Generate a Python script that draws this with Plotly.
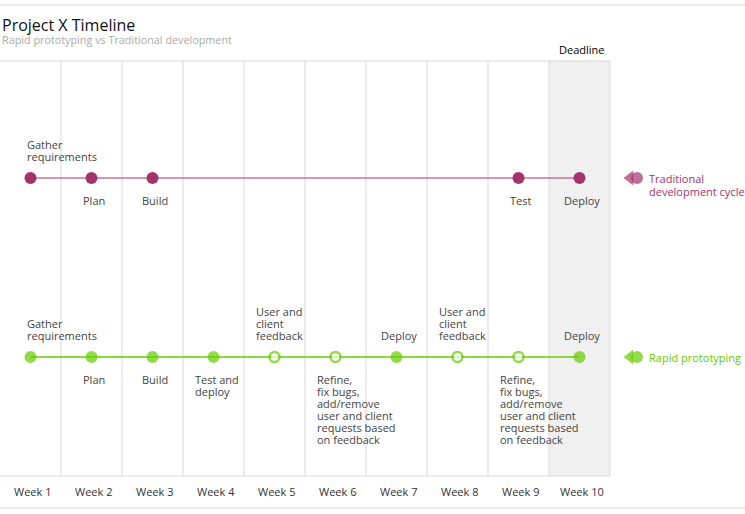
import plotly.graph_objects as go

# --------------------
# Data
# --------------------
weeks = ["Week 1", "Week 2", "Week 3", "Week 4", "Week 5",
         "Week 6", "Week 7", "Week 8", "Week 9", "Week 10"]

refine_text = "Refine,\nfix bugs,\nadd/remove\nuser and client\nrequests based\non feedback"
feedback_text = "User and\nclient\nfeedback"

trad_weeks = ["Week 1", "Week 2", "Week 3", "Week 9", "Week 10"]
trad_labels = ["Gather\nrequirements", "Plan", "Build", "Test", "Deploy"]
trad_sides = ["above", "below", "below", "below", "below"]

rapid_weeks = weeks
rapid_labels = ["Gather\nrequirements", "Plan", "Build", "Test and\ndeploy", feedback_text,
                refine_text, "Deploy", feedback_text, refine_text, "Deploy"]
rapid_sides = ["above", "below", "below", "below", "above",
               "below", "above", "above", "below", "above"]
rapid_filled = [True, True, True, True, False, False, True, False, False, True]

series_names = ["Traditional\ndevelopment cycle", "Rapid prototyping"]
deadline_week = "Week 10"

# --------------------
# Style / layout
# --------------------
W, H = 745, 514
PURPLE = "#a5336b"
GREEN = "#66cc00"
GRID = "#d9d9d9"
TEXT = "#444444"
FONT = "Open Sans"

px_per_week = 61
row_y = {"trad": 1, "rapid": 0}
row_px = {"trad": 178, "rapid": 357}
unit_px = row_px["rapid"] - row_px["trad"]
y_top = 1 + row_px["trad"] / unit_px
y_bot = -(H - row_px["rapid"]) / unit_px
x_left = -0.5
x_right = x_left + W / px_per_week

plot_top = 1 - 61 / H
plot_bot = 1 - 476 / H
week_label_y = 1 - 491 / H

pos = {w: i for i, w in enumerate(weeks)}

fig = go.Figure()

# shaded deadline column
d = pos[deadline_week]
fig.add_shape(type="rect", xref="x", yref="paper", x0=d - 0.5, x1=d + 0.5,
              y0=plot_bot, y1=plot_top, fillcolor="#f0f0f0", line_width=0, layer="below")

# column grid lines
for i in range(1, len(weeks) + 1):
    fig.add_shape(type="line", xref="x", yref="paper", x0=i - 0.5, x1=i - 0.5,
                  y0=plot_bot, y1=plot_top, line=dict(color=GRID, width=1), layer="below")

# frame lines
for yy in (plot_top, plot_bot):
    fig.add_shape(type="line", xref="x", yref="paper", x0=x_left, x1=len(weeks) - 0.5,
                  y0=yy, y1=yy, line=dict(color=GRID, width=1), layer="below")
for yy in (1 - 5 / H, 1 - 508 / H):
    fig.add_shape(type="line", xref="paper", yref="paper", x0=0, x1=1,
                  y0=yy, y1=yy, line=dict(color=GRID, width=1), layer="below")

# traditional series
tx = [pos[w] for w in trad_weeks]
fig.add_trace(go.Scatter(
    x=tx, y=[row_y["trad"]] * len(tx), mode="lines+markers",
    line=dict(color=PURPLE, width=1),
    marker=dict(color=PURPLE, size=12, line_width=0),
    hoverinfo="skip", showlegend=False
))

# rapid series
rx = [pos[w] for w in rapid_weeks]
fig.add_trace(go.Scatter(
    x=rx, y=[row_y["rapid"]] * len(rx), mode="lines+markers",
    line=dict(color=GREEN, width=1.5),
    marker=dict(color=[GREEN if f else "white" for f in rapid_filled],
                size=[12 if f else 10 for f in rapid_filled],
                line=dict(color=GREEN, width=[0 if f else 2.5 for f in rapid_filled])),
    hoverinfo="skip", showlegend=False
))

# legend glyphs (teardrop = triangle + circle)
glyph_x = len(weeks) - 0.5 + 27 / px_per_week
for key, col in (("trad", PURPLE), ("rapid", GREEN)):
    fig.add_trace(go.Scatter(
        x=[glyph_x - 7 / px_per_week, glyph_x], y=[row_y[key]] * 2, mode="markers",
        marker=dict(symbol=["triangle-left", "circle"], size=[13, 12], color=col, line_width=0),
        cliponaxis=False, hoverinfo="skip", showlegend=False
    ))

annotations = []


def add_label(week, row, text, side):
    lines = text.split("\n")
    n = len(lines)
    multi = n > 1
    for k, line in enumerate(lines):
        if side == "above":
            shift = 22 + (n - 1 - k) * 12
        else:
            shift = -(22.5 + k * 12)
        if multi:
            xanchor = "left"
            xshift = -6 if pos[week] == 0 else -21
        else:
            xanchor = "center"
            xshift = 2
        annotations.append(dict(
            x=pos[week], y=row_y[row], xref="x", yref="y", text=line, showarrow=False,
            xanchor=xanchor, yanchor="middle", xshift=xshift, yshift=shift,
            font=dict(family=FONT, size=11, color=TEXT)
        ))


for w, t, s in zip(trad_weeks, trad_labels, trad_sides):
    add_label(w, "trad", t, s)
for w, t, s in zip(rapid_weeks, rapid_labels, rapid_sides):
    add_label(w, "rapid", t, s)

# series names
for (key, col), name in zip((("trad", PURPLE), ("rapid", GREEN)), series_names):
    for k, line in enumerate(name.split("\n")):
        annotations.append(dict(
            x=glyph_x + 10 / px_per_week, y=row_y[key], xref="x", yref="y", text=line,
            showarrow=False, xanchor="left", yanchor="middle", yshift=-13 * k,
            font=dict(family=FONT, size=11, color=col)
        ))

# week labels
for w in weeks:
    annotations.append(dict(
        x=pos[w], y=week_label_y, xref="x", yref="paper", text=w, showarrow=False,
        xanchor="center", yanchor="middle", xshift=2,
        font=dict(family=FONT, size=11, color="#333333")
    ))

# deadline label
annotations.append(dict(
    x=pos[deadline_week], y=1 - 50 / H, xref="x", yref="paper", text="Deadline", showarrow=False,
    xanchor="center", yanchor="middle", xshift=2,
    font=dict(family=FONT, size=11, color="#000000", weight=500)
))

# title and subtitle
annotations.append(dict(
    x=0, y=1 - 25 / H, xref="paper", yref="paper", text="Project X Timeline", showarrow=False,
    xanchor="left", yanchor="middle", font=dict(family=FONT, size=16, color="#111111")
))
annotations.append(dict(
    x=0, y=1 - 40 / H, xref="paper", yref="paper", text="Rapid prototyping vs Traditional development",
    showarrow=False, xanchor="left", yanchor="middle", font=dict(family=FONT, size=10.8, color="#aaaaaa")
))

fig.update_layout(
    width=W, height=H,
    margin=dict(l=0, r=0, t=0, b=0),
    paper_bgcolor="white", plot_bgcolor="white",
    xaxis=dict(range=[x_left, x_right], visible=False, fixedrange=True),
    yaxis=dict(range=[y_bot, y_top], visible=False, fixedrange=True),
    annotations=annotations,
    showlegend=False
)

fig.write_html("out.html", config={"displayModeBar": False},
               post_script="document.body.style.margin='0';document.body.style.overflow='hidden';")
